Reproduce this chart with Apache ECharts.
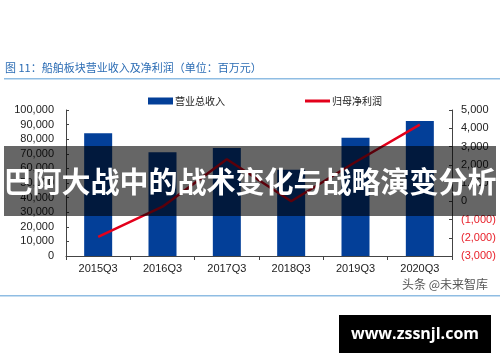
<!DOCTYPE html>
<html><head><meta charset="utf-8">
<script src="https://cdn.jsdelivr.net/npm/echarts@6/dist/echarts.min.js"></script>
<style>html,body{margin:0;padding:0;background:#fff}#c{width:500px;height:362px}</style>
</head><body><div id="c"></div>
<script>
const categories = ['2015Q3','2016Q3','2017Q3','2018Q3','2019Q3','2020Q3'];
const revenue = [84000, 71000, 74000, 59000, 81000, 92500];
const netProfit = [-1950, -300, 2300, 0, 2150, 4200];
const leftTicks = {min: 0, max: 100000, interval: 10000};
const rightTicks = {min: -3000, max: 5000, interval: 1000};
const titleText = '图 11：船舶板块营业收入及净利润（单位：百万元）';
const bannerText = '巴阿大战中的战术变化与战略演变分析';
const footerText = 'www.zssnjl.com';
const watermarkText = '头条 @未来智库';

const fmt = v => {
  const s = Math.abs(v).toLocaleString('en-US');
  return v < 0 ? '(' + s + ')' : s;
};
const chart = echarts.init(document.getElementById('c'), null, {renderer: 'canvas'});
const axisFont = {fontFamily: 'Liberation Sans, Arial, sans-serif', fontSize: 11, color: '#222'};
chart.setOption({
  animation: false,
  backgroundColor: '#fff',
  grid: {left: 66, right: 48, top: 110, bottom: 106},
  legend: [
    {data: [{name: '营业总收入', icon: 'rect'}], left: 143, top: 91, itemWidth: 25, itemHeight: 7, itemGap: 4,
     textStyle: {fontFamily: 'Noto Sans CJK SC', fontSize: 10, color: '#222', padding: [0,0,0,-3]}},
    {data: [{name: '归母净利润', icon: 'rect', itemStyle: {color: '#e3001b'}}], left: 300, top: 91,
     itemWidth: 25, itemHeight: 3, itemGap: 4,
     textStyle: {fontFamily: 'Noto Sans CJK SC', fontSize: 10, color: '#222', padding: [0,0,0,-3]}}
  ],
  xAxis: {
    type: 'category', data: categories,
    axisLine: {lineStyle: {color: '#444', width: 1}},
    axisTick: {show: true, inside: false, length: 4, lineStyle: {color: '#444'}},
    axisLabel: Object.assign({}, axisFont, {margin: 7})
  },
  yAxis: [
    {type: 'value', min: leftTicks.min, max: leftTicks.max, interval: leftTicks.interval,
     axisLine: {show: true, lineStyle: {color: '#444'}},
     axisTick: {show: true, inside: true, length: 3, lineStyle: {color: '#444'}},
     splitLine: {show: false},
     axisLabel: Object.assign({}, axisFont, {margin: 12, formatter: fmt})},
    {type: 'value', position: 'right', min: rightTicks.min, max: rightTicks.max, interval: rightTicks.interval,
     axisLine: {show: true, lineStyle: {color: '#444'}},
     axisTick: {show: true, inside: true, length: 3, lineStyle: {color: '#444'}},
     splitLine: {show: false},
     axisLabel: Object.assign({}, axisFont, {margin: 9, formatter: fmt,
       color: v => (Number(v) < 0 ? '#e8202a' : '#222')})}
  ],
  series: [
    {name: '营业总收入', type: 'bar', data: revenue, barWidth: 28, yAxisIndex: 0,
     itemStyle: {color: '#033f98'}},
    {name: '归母净利润', type: 'line', data: netProfit, yAxisIndex: 1, symbol: 'none', showSymbol: false,
     lineStyle: {color: '#e3001b', width: 2.5}, itemStyle: {color: '#e3001b'}}
  ],
  graphic: [
    {type: 'text', left: 5, top: 62, z: 100, style: {text: titleText, fill: '#2b6cb4',
      font: '11px "Noto Sans CJK SC"'}},
    {type: 'rect', shape: {x: 4, y: 78, width: 496, height: 1.5}, z: 100, style: {fill: '#8fbde3'}},
    {type: 'rect', shape: {x: 0, y: 295, width: 500, height: 1.5}, z: 100, style: {fill: '#8fbde3'}},
    {type: 'text', left: 402, top: 278, z: 100, style: {text: watermarkText, fill: '#555',
      font: '12px "Noto Sans CJK SC"'}},
    {type: 'rect', shape: {x: 4, y: 146, width: 492, height: 70}, z: 200, style: {fill: 'rgba(0,0,0,0.6)'}},
    {type: 'text', x: 250, y: 182, z: 201, style: {text: bannerText, fill: '#fff', align: 'center',
      verticalAlign: 'middle', font: 'bold 29px "Noto Sans CJK SC"'}},
    {type: 'rect', shape: {x: 339, y: 315, width: 152, height: 38}, z: 200, style: {fill: '#000'}},
    {type: 'text', x: 415, y: 334, z: 201, style: {text: footerText, fill: '#fff', align: 'center',
      verticalAlign: 'middle', font: 'bold 16px "Open Sans", "DejaVu Sans", sans-serif'}}
  ]
});
</script></body></html>
